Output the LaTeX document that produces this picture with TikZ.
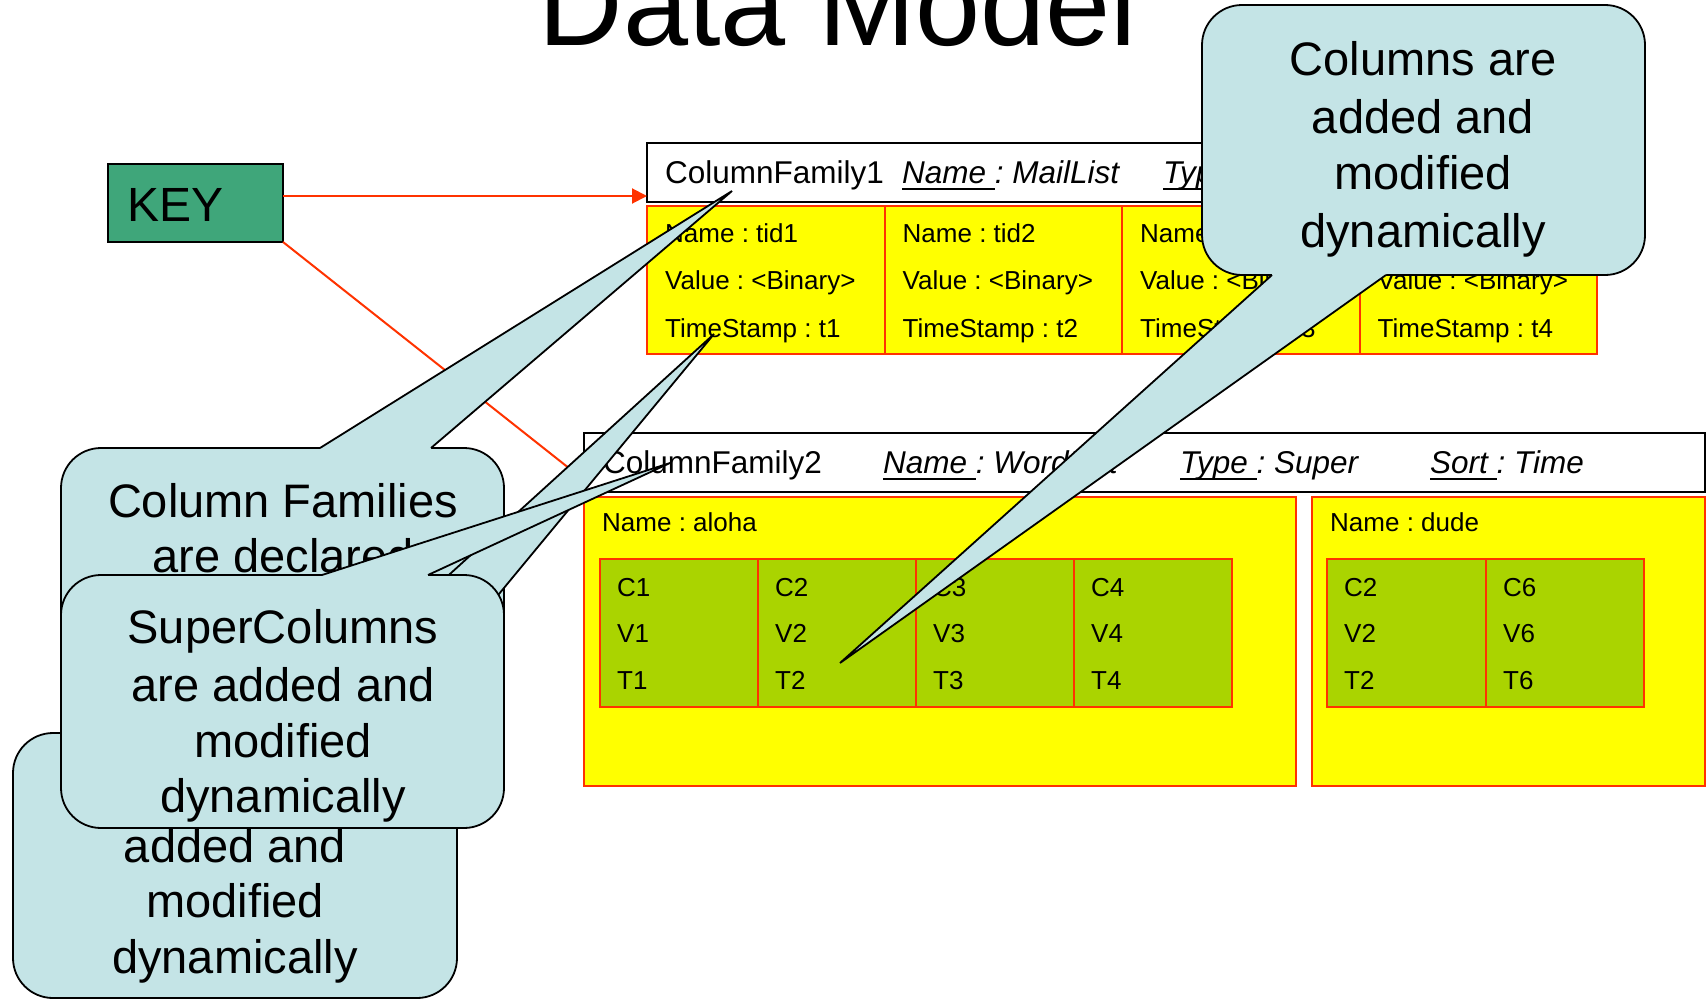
\documentclass[tikz,border=0pt]{standalone}
\usepackage{fontspec}
\setmainfont{Liberation Sans}
\usetikzlibrary{arrows.meta}
\definecolor{cfyellow}{RGB}{255,255,0}
\definecolor{cfred}{RGB}{255,51,0}
\definecolor{cfgreen}{RGB}{170,212,0}
\definecolor{keygreen}{RGB}{63,166,122}
\definecolor{callfill}{RGB}{196,228,230}
\newcommand{\ulx}[1]{\setbox0=\hbox{#1}\rlap{\rule[-6.5pt]{\wd0}{2pt}}\box0}
\frenchspacing
\begin{document}
\begin{tikzpicture}[x=1pt,y=-1pt,
  hdr/.style={draw=black, line width=2.5pt, fill=white, inner sep=0pt, outer sep=0pt},
  keybox/.style={draw=black, line width=2.5pt, fill=keygreen, inner sep=0pt, outer sep=0pt},
  cell/.style={draw=cfred, line width=2pt, fill=cfyellow},
  gcell/.style={draw=cfred, line width=2pt, fill=cfgreen},
  txt/.style={anchor=base west, inner sep=0pt, font=\fontsize{26}{30}\selectfont},
  htxt/.style={anchor=base west, inner sep=0pt, font=\fontsize{31.5}{36}\selectfont},
  ctxt/.style={anchor=base, inner sep=0pt, font=\fontsize{47}{56}\selectfont},
  callbox/.style={draw=black, line width=1.8pt, fill=callfill, rounded corners=40pt},
  calledge/.style={draw=black, line width=1.8pt, line join=miter},
  redline/.style={draw=cfred, line width=2pt},
  tipstyle/.style={-{Triangle[length=15pt,width=15pt]}}]
\useasboundingbox (0,0) rectangle (1707,1001);
\fill[white] (0,0) rectangle (1707,1001);

% title
\node[anchor=base, inner sep=0pt, font=\fontsize{117}{130}\selectfont] (title) at (838,45) {Data Model};

% KEY
\node[keybox, minimum width=175pt, minimum height=78pt] (key) at (195.5,203) {};
\node[anchor=base west, inner sep=0pt, font=\fontsize{48}{56}\selectfont] (keytxt) at (127,221) {KEY};

% ColumnFamily1 header
\node[hdr, minimum width=949pt, minimum height=59pt] (cf1) at (1121.5,172.5) {};
\node[htxt] (cf1name) at (665,183) {ColumnFamily1};
\node[htxt] (cf1n) at (902,183) {\textit{\ulx{Name\ }: MailList}};
\node[htxt] (cf1t) at (1163,183) {\textit{\ulx{Type\ }}};

% ColumnFamily1 cells
\draw[cell] (647,206) rectangle (884.5,354);
\draw[cell] (884.5,206) rectangle (1122,354);
\draw[cell] (1122,206) rectangle (1359.5,354);
\draw[cell] (1359.5,206) rectangle (1597,354);
\node[txt] (c1a) at (665,242) {Name : tid1};
\node[txt] (c1b) at (665,289) {Value : <Binary>};
\node[txt] (c1c) at (665,337) {TimeStamp : t1};
\node[txt] (c2a) at (902.5,242) {Name : tid2};
\node[txt] (c2b) at (902.5,289) {Value : <Binary>};
\node[txt] (c2c) at (902.5,337) {TimeStamp : t2};
\node[txt] (c3a) at (1140,242) {Name : tid3};
\node[txt] (c3b) at (1140,289) {Value : <Binary>};
\node[txt] (c3c) at (1140,337) {TimeStamp : t3};
\node[txt] (c4b) at (1377.5,289) {Value : <Binary>};
\node[txt] (c4c) at (1377.5,337) {TimeStamp : t4};

% ColumnFamily2 header
\node[hdr, minimum width=1121pt, minimum height=59pt] (cf2) at (1144.5,462.5) {};
\node[htxt] (cf2name) at (603,473) {ColumnFamily2};
\node[htxt] (cf2n) at (883,473) {\textit{\ulx{Name\ }: WordList}};
\node[htxt] (cf2t) at (1180,473) {\textit{\ulx{Type\ }: Super}};
\node[htxt] (cf2s) at (1430,473) {\textit{\ulx{Sort\ }: Time}};

% super column rows
\draw[cell] (584,497) rectangle (1296,786);
\draw[cell] (1312,497) rectangle (1705,786);
\node[txt] (aloha) at (602,531) {Name : aloha};
\node[txt] (dude) at (1330,531) {Name : dude};

\draw[gcell] (600,559) rectangle (758,707);
\draw[gcell] (758,559) rectangle (916,707);
\draw[gcell] (916,559) rectangle (1074,707);
\draw[gcell] (1074,559) rectangle (1232,707);
\draw[gcell] (1327,559) rectangle (1485.5,707);
\draw[gcell] (1485.5,559) rectangle (1644,707);

\node[txt] (g1c) at (617,596) {C1};
\node[txt] (g1v) at (617,642) {V1};
\node[txt] (g1t) at (617,689) {T1};
\node[txt] (g2c) at (775,596) {C2};
\node[txt] (g2v) at (775,642) {V2};
\node[txt] (g2t) at (775,689) {T2};
\node[txt] (g3c) at (933,596) {C3};
\node[txt] (g3v) at (933,642) {V3};
\node[txt] (g3t) at (933,689) {T3};
\node[txt] (g4c) at (1091,596) {C4};
\node[txt] (g4v) at (1091,642) {V4};
\node[txt] (g4t) at (1091,689) {T4};
\node[txt] (g5c) at (1344,596) {C2};
\node[txt] (g5v) at (1344,642) {V2};
\node[txt] (g5t) at (1344,689) {T2};
\node[txt] (g6c) at (1503,596) {C6};
\node[txt] (g6v) at (1503,642) {V6};
\node[txt] (g6t) at (1503,689) {T6};

% red connectors
\coordinate (cf1in) at (647,196);
\coordinate (cf2in) at (584,480);
\draw[redline, tipstyle] (key.east |- cf1in) -- (cf1in);
\draw[redline, tipstyle] (key.south east) -- (cf2in);

% callout A: Column Families
\draw[callbox] (61,448) rectangle (504,713);
\fill[callfill] (320,448) -- (732,191) -- (431,448) -- (431,451) -- (320,451) -- cycle;
\draw[calledge] (320,448) -- (732,191) -- (431,448);
\node[ctxt] (ta1) at (283,517) {Column Families};
\node[ctxt] (ta2) at (283,572) {are declared};

% callout B: bottom
\draw[callbox] (13,733) rectangle (457,998);
\fill[callfill] (275,733) -- (714,334) -- (384,733) -- (384,736) -- (275,736) -- cycle;
\draw[calledge] (275,733) -- (714,334) -- (384,733);
\node[ctxt] (tb2) at (235,862) {added and};
\node[ctxt] (tb3) at (235,917) {modified};
\node[ctxt] (tb4) at (235,973) {dynamically};

% callout C: SuperColumns
\draw[callbox] (61,575) rectangle (504,828);
\fill[callfill] (322,575) -- (670,463) -- (428,575) -- (428,578) -- (322,578) -- cycle;
\draw[calledge] (322,575) -- (670,463) -- (428,575);
\node[ctxt] (tc1) at (283,643) {SuperColumns};
\node[ctxt] (tc2) at (283,701) {are added and};
\node[ctxt] (tc3) at (283,757) {modified};
\node[ctxt] (tc4) at (283,812) {dynamically};

% callout D: Columns
\draw[callbox] (1202,5) rectangle (1645,275);
\fill[callfill] (1272,272) -- (1272,275) -- (840,663) -- (1386,275) -- (1386,272) -- cycle;
\draw[calledge] (1272,275) -- (840,663) -- (1386,275);
\node[ctxt] (td1) at (1423,75) {Columns are};
\node[ctxt] (td2) at (1423,133) {added and};
\node[ctxt] (td3) at (1423,189) {modified};
\node[ctxt] (td4) at (1423,247) {dynamically};
\end{tikzpicture}
\end{document}
